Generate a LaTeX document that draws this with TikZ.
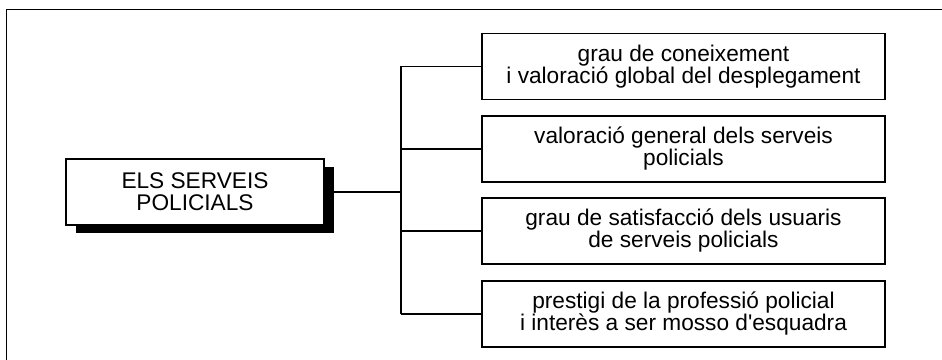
\documentclass[tikz,border=0pt]{standalone}
\usepackage{fontspec}
\setmainfont{Liberation Sans}
\usetikzlibrary{shadows}
\begin{document}
\begin{tikzpicture}[x = 0.75pt, y = 0.75pt,
        txt/.style = {font=\fontsize{17}{16.5}\selectfont, align=center},
        item/.style = {draw, txt, fill=white, line width=1.4pt, inner sep=0pt,
            minimum width=302pt, minimum height=49.5pt},
        root/.style = {draw, txt, fill=white, line width=1.4pt, inner sep=0pt,
            minimum width=193.5pt, minimum height=49.5pt,
            drop shadow={shadow xshift=7.5pt, shadow yshift=-6pt, opacity=1, fill=black}},
        link/.style = {line width=0.9pt}]
        \useasboundingbox (0, 0) rectangle (942, 360);
        \draw[line width=1.2pt] (6.5, 0) -- (6.5, 350.5) -- (942, 350.5);
        \node[root] (els) at (195, 168) {ELS SERVEIS\\POLICIALS};
        \node[item] (b1) at (683.5, 293.5) {grau de coneixement\\i valoració global del desplegament};
        \node[item] (b2) at (683.5, 211) {valoració general dels serveis\\policials};
        \node[item] (b3) at (683.5, 129) {grau de satisfacció dels usuaris\\de serveis policials};
        \node[item] (b4) at (683.5, 46) {prestigi de la professió policial\\i interès a ser mosso d\textquotesingle esquadra};
        \coordinate (hub) at (401, 168);
        \draw[link] (els) -- (hub);
        \draw[link] (hub |- b1) -- (hub |- b4);
        \draw[link] (hub |- b1) -- (b1);
        \draw[link] (hub |- b2) -- (b2);
        \draw[link] (hub |- b3) -- (b3);
        \draw[link] (hub |- b4) -- (b4);
    \end{tikzpicture}
\end{document}
